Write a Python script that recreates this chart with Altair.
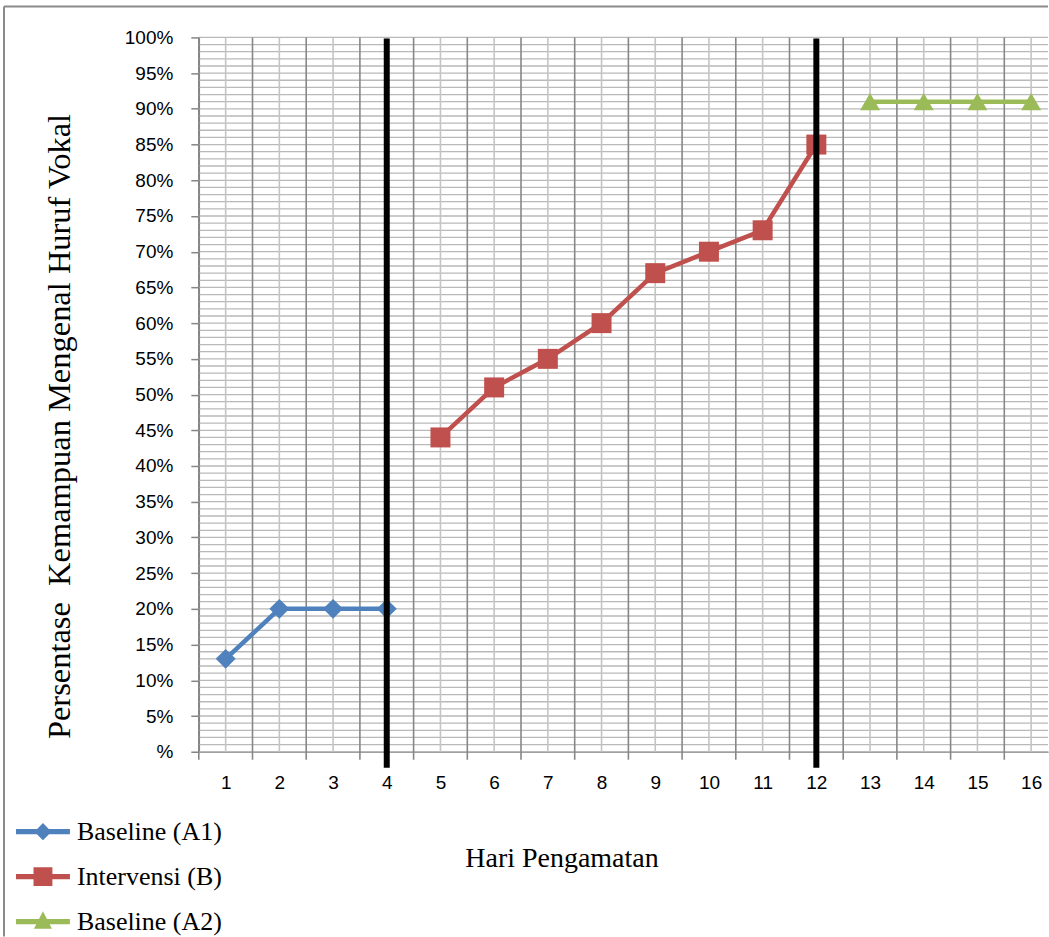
import altair as alt
import pandas as pd

# Observation days and percentage scores for each phase
days_a1 = [1, 2, 3, 4]
pct_a1 = [13, 20, 20, 20]
days_b = [5, 6, 7, 8, 9, 10, 11, 12]
pct_b = [44, 51, 55, 60, 67, 70, 73, 85]
days_a2 = [13, 14, 15, 16]
pct_a2 = [91, 91, 91, 91]

series_names = ["Baseline (A1)", "Intervensi (B)", "Baseline (A2)"]
series_colors = ["#4F81BD", "#C0504D", "#9BBB59"]
marker_shapes = ["diamond", "square", "triangle-up"]

# Phase-change lines (after day 4 and day 12)
phase_days = [4, 12]

# Axis ticks / grid positions
day_labels = list(range(1, 17))
day_bounds = [d - 0.5 for d in range(1, 17)]
pct_ticks = list(range(0, 101, 5))
pct_minor = list(range(0, 101, 1))

W, H = 850, 715
X_MIN, X_MAX = 0.5, 16.314

rows = []
for name, days, vals in [
    (series_names[0], days_a1, pct_a1),
    (series_names[1], days_b, pct_b),
    (series_names[2], days_a2, pct_a2),
]:
    for d, v in zip(days, vals):
        rows.append({"hari": d, "persen": v, "seri": name})
df = pd.DataFrame(rows)

xscale = alt.Scale(domain=[X_MIN, X_MAX], nice=False, zero=False)
yscale = alt.Scale(domain=[0, 100], nice=False)

LABEL_FONT = "Liberation Sans"
SERIF = "Liberation Serif"

y_axis = alt.Axis(
    values=pct_ticks,
    labelExpr="datum.value == 0 ? '%' : datum.value + '%'",
    labelFont=LABEL_FONT, labelFontSize=19, labelColor="#000",
    labelOverlap=False, labelPadding=18,
    tickSize=8, tickColor="#868686", tickWidth=1.5,
    domainColor="#868686", domainWidth=1.5, grid=False,
    title="Persentase\u00a0 Kemampuan Mengenal Huruf Vokal",
    titleFont=SERIF, titleFontSize=32.5, titleFontWeight="normal",
    titleColor="#000", titleAngle=270, titleAlign="center",
    titleBaseline="middle", titleX=-139, titleY=389,
)

x_axis = alt.Axis(
    values=day_labels, format="d", labelFont=LABEL_FONT,
    labelFontSize=19, labelColor="#000", tickSize=0, ticks=False,
    labelPadding=22, domainColor="#868686", domainWidth=1.5,
    grid=False, labelFlush=False, labelOverlap=False,
    title="Hari Pengamatan", titleFont=SERIF, titleFontSize=28,
    titleFontWeight="normal", titleColor="#000",
    titleAlign="center", titleBaseline="alphabetic",
    titleX=363, titleY=115,
)

# Horizontal grid, one line per percent
hgrid = alt.Chart(pd.DataFrame({"v": pct_minor})).mark_rule(
    color="#b9b9b9", strokeWidth=1.3
).encode(
    y=alt.Y("v:Q", scale=yscale, axis=y_axis),
)

# Light vertical lines through each day
vminor = alt.Chart(pd.DataFrame({"d": day_labels})).mark_rule(
    color="#c4c4c4", strokeWidth=1.6
).encode(
    x=alt.X("d:Q", scale=xscale, axis=x_axis),
)

# Darker lines at day boundaries, extending below the axis as tick marks
vmajor = alt.Chart(pd.DataFrame({"d": day_bounds})).mark_rule(
    color="#878787", strokeWidth=1.6
).encode(
    x=alt.X("d:Q", scale=xscale, axis=x_axis),
    y=alt.value(0),
    y2=alt.value(H + 8),
)

color_enc = alt.Color("seri:N", scale=alt.Scale(domain=series_names, range=series_colors),
                      legend=None)

lines = alt.Chart(df).mark_line(strokeWidth=4.5).encode(
    x=alt.X("hari:Q", scale=xscale, axis=x_axis),
    y=alt.Y("persen:Q", scale=yscale, axis=y_axis),
    color=color_enc,
    detail="seri:N",
)

points = alt.Chart(df).mark_point(filled=True, opacity=1, strokeWidth=0).encode(
    x=alt.X("hari:Q", scale=xscale, axis=x_axis),
    y=alt.Y("persen:Q", scale=yscale, axis=y_axis),
    color=color_enc,
    shape=alt.Shape("seri:N", scale=alt.Scale(domain=series_names, range=marker_shapes),
                    legend=None),
    size=alt.Size("seri:N", scale=alt.Scale(domain=series_names, range=[400, 400, 470]),
                  legend=None),
)

phase = alt.Chart(pd.DataFrame({"d": phase_days})).mark_rule(
    color="#000", strokeWidth=6
).encode(
    x=alt.X("d:Q", scale=xscale, axis=x_axis),
    y=alt.value(1),
    y2=alt.value(H + 16),
)

# Legend symbols: a line segment with the series marker on it
legend_paths = [
    "M-3,-0.29H3V0.29H-3Z M0,-0.95L0.95,0L0,0.95L-0.95,0Z",
    "M-3,-0.29H3V0.29H-3Z M-1.05,-1.05H1.05V1.05H-1.05Z",
    "M-3,-0.29H3V0.29H-3Z M0,-1.15L1.0,0.8H-1.0Z",
]
legend_layer = alt.Chart(df).transform_filter("false").mark_point(
    filled=True, opacity=1, strokeWidth=0
).encode(
    x=alt.X("hari:Q", scale=xscale, axis=x_axis),
    y=alt.Y("persen:Q", scale=yscale, axis=y_axis),
    color=alt.Color("seri:N", scale=alt.Scale(domain=series_names, range=series_colors),
                    legend=alt.Legend(title=None)),
    shape=alt.Shape("seri:N", scale=alt.Scale(domain=series_names, range=legend_paths),
                    legend=alt.Legend(title=None)),
)

# Chart frame (top and left edges)
frame_top = alt.Chart(pd.DataFrame({"k": [0]})).mark_rule(
    color="#8a8a8a", strokeWidth=2
).encode(x=alt.value(-195), x2=alt.value(W), y=alt.value(-31))
frame_left = alt.Chart(pd.DataFrame({"k": [0]})).mark_rule(
    color="#8a8a8a", strokeWidth=2
).encode(x=alt.value(-195), y=alt.value(-31), y2=alt.value(900))

chart = alt.layer(
    hgrid, vminor, vmajor, lines, points, phase, legend_layer, frame_top, frame_left
).resolve_scale(
    color="independent", shape="independent"
).properties(
    width=W, height=H,
    padding={"left": 3, "top": 5, "right": 0, "bottom": 0},
).configure_view(
    strokeWidth=0
).configure_legend(
    orient="none", legendX=-169, legendY=782, direction="vertical",
    symbolSize=324, symbolStrokeWidth=0, symbolOpacity=1,
    labelFont=SERIF, labelFontSize=26, labelColor="#000", labelLimit=0,
    labelOffset=21, rowPadding=19,
)

chart.save("out.html", embed_options={"renderer": "svg", "actions": False})
